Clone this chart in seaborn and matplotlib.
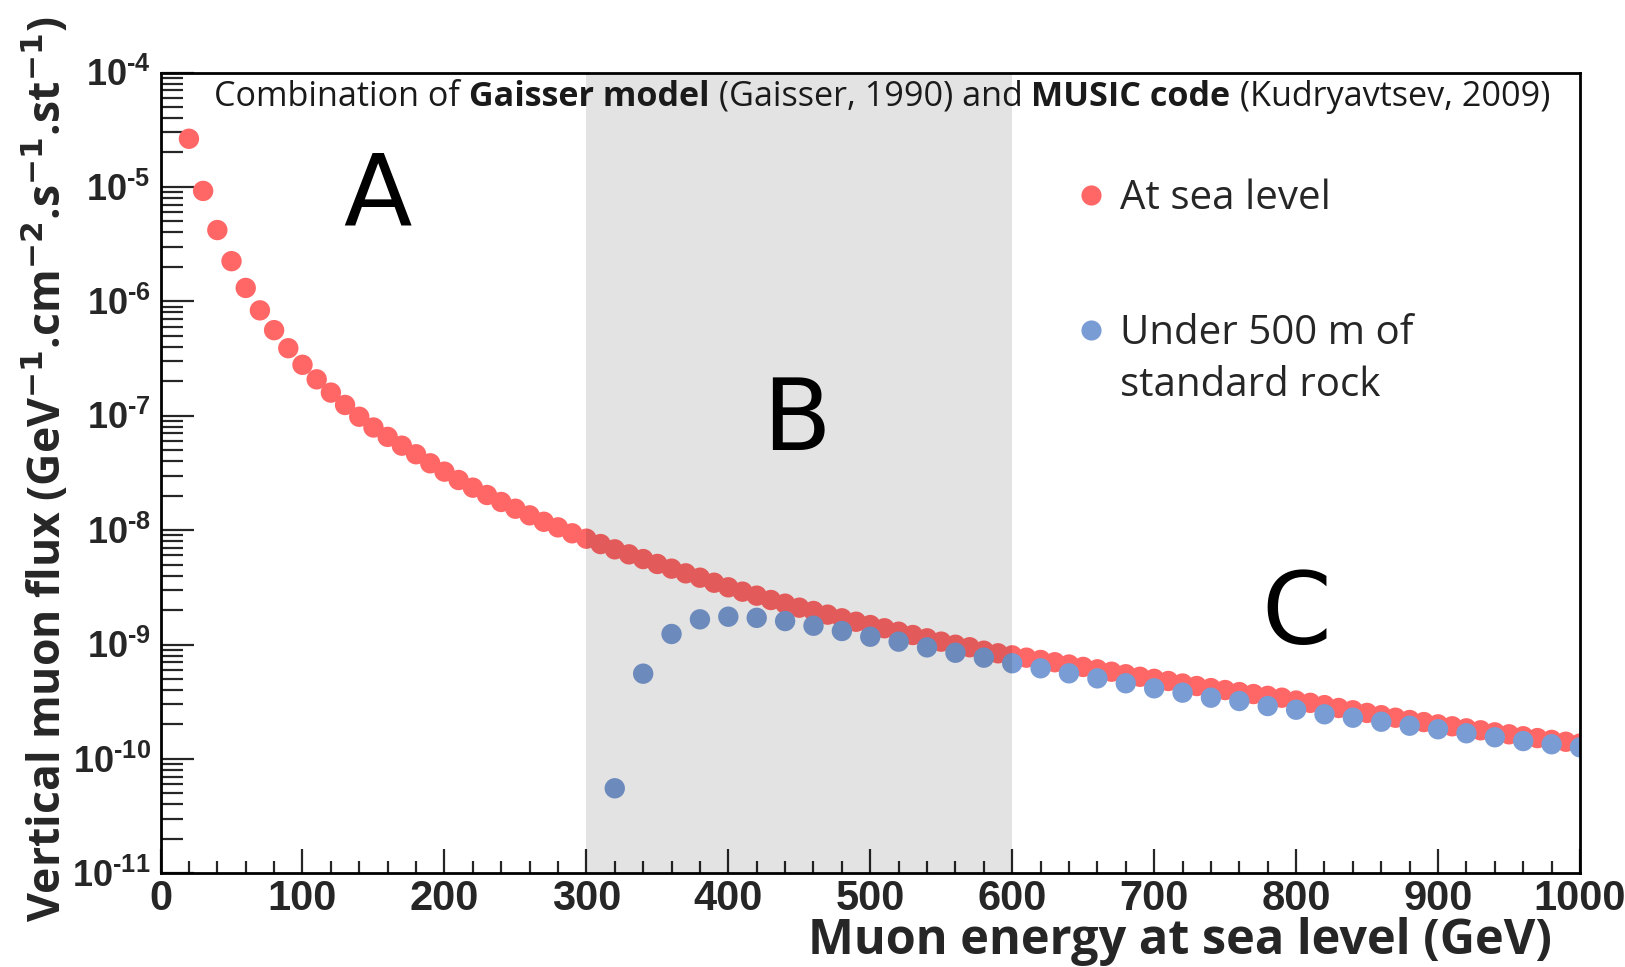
import matplotlib
matplotlib.use("Agg")
import matplotlib.pyplot as plt
import numpy as np
import pandas as pd
import seaborn as sns
from matplotlib.ticker import MultipleLocator, LogLocator, FuncFormatter, NullFormatter
from matplotlib.lines import Line2D

# ---------------- data ----------------
energy_sea = [20, 30, 40, 50, 60, 70, 80, 90, 100, 110, 120, 130, 140, 150, 160, 170,
              180, 190, 200, 210, 220, 230, 240, 250, 260, 270, 280, 290, 300, 310,
              320, 330, 340, 350, 360, 370, 380, 390, 400, 410, 420, 430, 440, 450,
              460, 470, 480, 490, 500, 510, 520, 530, 540, 550, 560, 570, 580, 590,
              600, 610, 620, 630, 640, 650, 660, 670, 680, 690, 700, 710, 720, 730,
              740, 750, 760, 770, 780, 790, 800, 810, 820, 830, 840, 850, 860, 870,
              880, 890, 900, 910, 920, 930, 940, 950, 960, 970, 980, 990, 1000]
log10_flux_sea = [-4.579, -5.035, -5.377, -5.649, -5.883, -6.079, -6.252, -6.410, -6.555,
                  -6.682, -6.798, -6.906, -7.009, -7.103, -7.185, -7.262, -7.337, -7.416,
                  -7.489, -7.562, -7.629, -7.693, -7.754, -7.813, -7.871, -7.927, -7.976,
                  -8.028, -8.075, -8.122, -8.168, -8.212, -8.253, -8.296, -8.337, -8.378,
                  -8.416, -8.460, -8.500, -8.538, -8.573, -8.611, -8.643, -8.678, -8.707,
                  -8.739, -8.771, -8.801, -8.830, -8.858, -8.888, -8.917, -8.946, -8.975,
                  -9.002, -9.024, -9.054, -9.077, -9.095, -9.115, -9.135, -9.155, -9.175,
                  -9.196, -9.217, -9.238, -9.260, -9.282, -9.300, -9.319, -9.341, -9.363,
                  -9.381, -9.398, -9.416, -9.433, -9.449, -9.465, -9.490, -9.510, -9.530,
                  -9.555, -9.575, -9.598, -9.618, -9.640, -9.660, -9.678, -9.698, -9.715,
                  -9.733, -9.750, -9.768, -9.785, -9.802, -9.818, -9.834, -9.850, -9.866]

energy_rock = [320, 340, 360, 380, 400, 420, 440, 460, 480, 500, 520, 540, 560, 580,
               600, 620, 640, 660, 680, 700, 720, 740, 760, 780, 800, 820, 840, 860,
               880, 900, 920, 940, 960, 980, 1000]
log10_flux_rock = [-10.257, -9.255, -8.908, -8.780, -8.757, -8.767, -8.795, -8.836, -8.882,
                   -8.932, -8.975, -9.025, -9.072, -9.115, -9.164, -9.208, -9.252, -9.296,
                   -9.339, -9.383, -9.421, -9.465, -9.494, -9.538, -9.570, -9.610, -9.640,
                   -9.675, -9.710, -9.741, -9.776, -9.811, -9.844, -9.872, -9.899]

region_band = [300, 600]
region_labels = ["A", "B", "C"]
region_label_pos_x = [153, 448, 800]
region_label_pos_logy = [-5.095, -7.055, -8.755]

series_names = ["At sea level", "Under 500 m of"]
series_second_line = "standard rock"
x_label = "Muon energy at sea level (GeV)"
y_label = (r"Vertical muon flux (GeV$^{\mathbf{-1}}$.cm$^{\mathbf{-2}}$"
           r".s$^{\mathbf{-1}}$.st$^{\mathbf{-1}}$)")
header_parts = [("Combination of", "normal"), (" Gaisser model", "bold"),
                (" (Gaisser, 1990) and", "normal"), (" MUSIC code", "bold"),
                (" (Kudryavtsev, 2009)", "normal")]

red = "#FF6666"
blue = "#7A9CD4"

# ---------------- style ----------------
sns.set_style("ticks")
plt.rcParams["font.family"] = ["Open Sans", "DejaVu Sans"]
plt.rcParams["mathtext.fontset"] = "custom"
plt.rcParams["mathtext.bf"] = "Liberation Sans:bold"
plt.rcParams["mathtext.rm"] = "Liberation Sans:bold"

df_sea = pd.DataFrame({"E": energy_sea, "flux": np.power(10.0, log10_flux_sea)})
df_rock = pd.DataFrame({"E": energy_rock, "flux": np.power(10.0, log10_flux_rock)})

fig = plt.figure(figsize=(16.25, 9.67), dpi=100)
ax = fig.add_axes([0.0988, 0.0969, 0.8735, 0.8281])

sns.scatterplot(data=df_sea, x="E", y="flux", ax=ax, color=red, s=215,
                edgecolor="none", linewidth=0, zorder=2, legend=False)
sns.scatterplot(data=df_rock, x="E", y="flux", ax=ax, color=blue, s=215,
                edgecolor="none", linewidth=0, zorder=2.5, legend=False)

# shaded band drawn over the points (darkens them like the reference)
ax.axvspan(region_band[0], region_band[1], color="black", alpha=0.11, lw=0, zorder=3)

ax.set_yscale("log")
ax.set_xlim(0, 1000)
ax.set_ylim(1e-11, 1e-4)

# ticks
ax.xaxis.set_major_locator(MultipleLocator(100))
ax.xaxis.set_minor_locator(MultipleLocator(20))
ax.yaxis.set_major_locator(LogLocator(base=10, numticks=20))
ax.yaxis.set_minor_locator(LogLocator(base=10, subs=np.arange(2, 10), numticks=20))
ax.yaxis.set_minor_formatter(NullFormatter())
ax.yaxis.set_major_formatter(FuncFormatter(
    lambda v, p: r"$\mathbf{10^{\text{-}%d}}$" % abs(int(round(np.log10(v))))))

ax.tick_params(axis="x", which="major", direction="in", length=17, width=1.6,
               labelsize=30, pad=4, top=False)
ax.tick_params(axis="x", which="minor", direction="in", length=8.6, width=1.6, top=False)
ax.tick_params(axis="y", which="major", direction="in", length=24, width=1.6,
               labelsize=26, pad=7, right=False)
ax.tick_params(axis="y", which="minor", direction="in", length=16, width=1.6, right=False)
for lab in ax.get_xticklabels():
    lab.set_family(["Liberation Sans"])
    lab.set_fontweight("bold")

for sp in ax.spines.values():
    sp.set_linewidth(2.0)
    sp.set_color("black")

ax.set_xlabel(x_label, fontsize=35, fontweight="bold", labelpad=0)
ax.xaxis.set_label_coords(0.98, -0.085)
ax.xaxis.label.set_ha("right")
ax.xaxis.label.set_va("center")

ax.set_ylabel(y_label, fontsize=32, fontweight="bold", math_fontfamily="dejavusans")
ax.yaxis.set_label_coords(-0.0805, 0.504)
ax.yaxis.label.set_va("center")

# region letters
for lab, xx, ly in zip(region_labels, region_label_pos_x, region_label_pos_logy):
    ax.text(xx, 10 ** ly, lab, fontsize=72, ha="center", va="center",
            color="black", zorder=5, family=["DejaVu Sans"])

# header text with mixed weights
fig.canvas.draw()
t = ax.text(0.038, 0.970, header_parts[0][0], transform=ax.transAxes, fontsize=24.6,
            fontweight=header_parts[0][1], va="center", ha="left", color="#1a1a1a",
            zorder=6)
for s, w in header_parts[1:]:
    t = ax.annotate(s, xy=(1, 0), xycoords=t, va="bottom", ha="left", fontsize=24.6,
                    fontweight=w, color="#1a1a1a", zorder=6)

# legend
handles = [Line2D([], [], ls="none", marker="o", markersize=14.5, color=red, mec="none"),
           Line2D([], [], ls="none", marker="o", markersize=14.5, color=blue, mec="none")]
leg = ax.legend(handles, series_names, loc="upper left", bbox_to_anchor=(0.645, 0.868),
                frameon=False, fontsize=29, handlelength=0.75, handletextpad=0.33,
                labelspacing=2.36, borderpad=0, borderaxespad=0)
leg.set_zorder(6)
ax.annotate(series_second_line, xy=(0, 0), xycoords=leg.get_texts()[1],
            xytext=(0, -8), textcoords="offset points", va="top", ha="left",
            fontsize=29, zorder=7)

fig.savefig("out.png", dpi=100)
